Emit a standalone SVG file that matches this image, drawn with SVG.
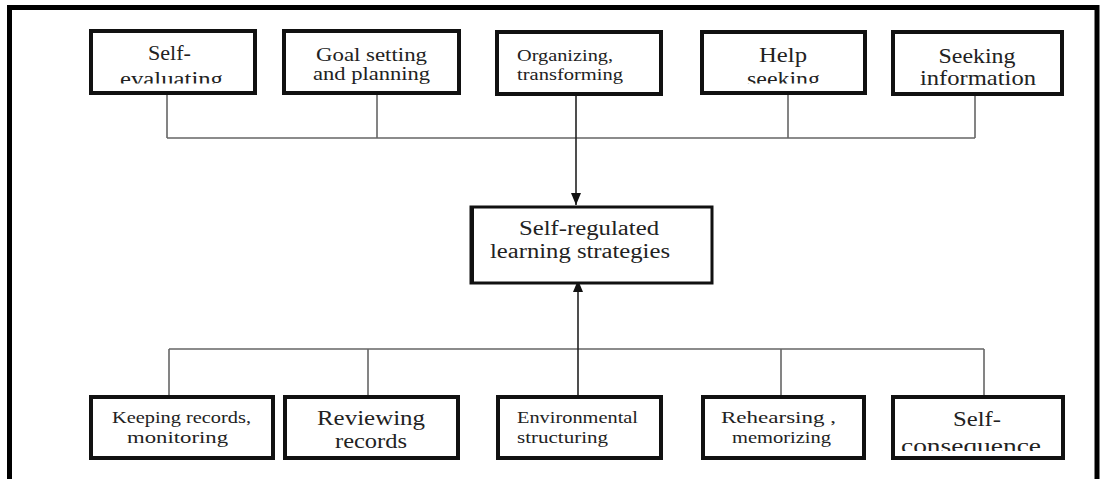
<svg xmlns="http://www.w3.org/2000/svg" width="1100" height="479" viewBox="0 0 1100 479">
  <style>
    .box { fill: #ffffff; stroke: #111111; stroke-width: 4; }
    .hub { fill: #ffffff; stroke: #111111; stroke-width: 3; }
    .t { font-family: 'Liberation Serif', 'DejaVu Serif', 'Times New Roman', serif; fill: #222222; text-anchor: middle; }
    .l { text-anchor: start; }
    .s17 { font-size: 17px; }
    .s19 { font-size: 19px; }
    .s20 { font-size: 20px; }
    .s21 { font-size: 21px; }
    .s22 { font-size: 22px; }
    .wire { fill: none; stroke: #666666; stroke-width: 1.6; }
    .main { fill: none; stroke: #222222; stroke-width: 1.6; }
  </style>
  <defs>
    <marker id="head" viewBox="0 0 12 10" refX="12" refY="5" markerWidth="12" markerHeight="10" markerUnits="userSpaceOnUse" orient="auto">
      <path d="M0,0 L12,5 L0,10 Z" fill="#111111"/>
    </marker>
    <clipPath id="clipSelfEval"><rect x="86" y="30" width="170" height="53.5"/></clipPath>
    <clipPath id="clipHelp"><rect x="700" y="30" width="170" height="53.5"/></clipPath>
    <clipPath id="clipConseq"><rect x="890" y="395" width="180" height="56"/></clipPath>
  </defs>

  <rect width="1100" height="479" fill="#ffffff"/>

  <!-- outer frame -->
  <path d="M9.5,479 V7.5 H1097 V479" fill="none" stroke="#000000" stroke-width="5"/>

  <!-- connectors -->
  <g id="connectors">
    <path class="wire" d="M167,93 V138 M377,93 V138 M788,93 V138 M975,93 V138 M167,138 H975"/>
    <path class="main" d="M576,94 V205" marker-end="url(#head)"/>
    <path class="wire" d="M169,397 V349 M368,397 V349 M781,397 V349 M984,397 V349 M169,349 H984"/>
    <path class="main" d="M578,397 V280" marker-end="url(#head)"/>
  </g>

  <!-- top row -->
  <g id="self-evaluating">
    <rect class="box" x="91" y="31" width="164" height="62"/>
    <text class="t s20" x="169.5" y="60" textLength="43" lengthAdjust="spacingAndGlyphs">Self-</text>
    <text class="t s20" x="171.5" y="86" textLength="103" lengthAdjust="spacingAndGlyphs" clip-path="url(#clipSelfEval)">evaluating</text>
  </g>
  <g id="goal-setting">
    <rect class="box" x="284" y="31" width="175" height="62"/>
    <text class="t s19" x="371.5" y="61" textLength="111" lengthAdjust="spacingAndGlyphs">Goal setting</text>
    <text class="t s19" x="371.5" y="80" textLength="117" lengthAdjust="spacingAndGlyphs">and planning</text>
  </g>
  <g id="organizing">
    <rect class="box" x="497" y="32" width="164" height="62"/>
    <text class="t l s17" x="517" y="61" textLength="96" lengthAdjust="spacingAndGlyphs">Organizing,</text>
    <text class="t l s17" x="517" y="80" textLength="106" lengthAdjust="spacingAndGlyphs">transforming</text>
  </g>
  <g id="help-seeking">
    <rect class="box" x="702" y="32" width="163" height="61"/>
    <text class="t s22" x="783" y="62" textLength="48" lengthAdjust="spacingAndGlyphs">Help</text>
    <text class="t s22" x="783.5" y="86" textLength="73" lengthAdjust="spacingAndGlyphs" clip-path="url(#clipHelp)">seeking</text>
  </g>
  <g id="seeking-information">
    <rect class="box" x="893" y="32" width="169" height="62"/>
    <text class="t s21" x="977" y="63" textLength="77" lengthAdjust="spacingAndGlyphs">Seeking</text>
    <text class="t s21" x="978" y="85" textLength="116" lengthAdjust="spacingAndGlyphs">information</text>
  </g>

  <!-- central node -->
  <g id="srl-strategies">
    <rect class="hub" x="471" y="207" width="241" height="76"/>
    <path d="M472,206 V284" stroke="#111111" stroke-width="4"/>
    <text class="t s20" x="589" y="235" textLength="140" lengthAdjust="spacingAndGlyphs">Self-regulated</text>
    <text class="t s20" x="580" y="258" textLength="180" lengthAdjust="spacingAndGlyphs">learning strategies</text>
  </g>

  <!-- bottom row -->
  <g id="keeping-records">
    <rect class="box" x="91" y="397" width="182" height="61"/>
    <text class="t s17" x="181.5" y="423" textLength="139" lengthAdjust="spacingAndGlyphs">Keeping records,</text>
    <text class="t s17" x="177.5" y="443" textLength="101" lengthAdjust="spacingAndGlyphs">monitoring</text>
  </g>
  <g id="reviewing-records">
    <rect class="box" x="285" y="397" width="173" height="61"/>
    <text class="t s22" x="371" y="425" textLength="108" lengthAdjust="spacingAndGlyphs">Reviewing</text>
    <text class="t s22" x="371" y="448" textLength="72" lengthAdjust="spacingAndGlyphs">records</text>
  </g>
  <g id="environmental-structuring">
    <rect class="box" x="498" y="397" width="163" height="61"/>
    <text class="t l s17" x="517" y="423" textLength="121" lengthAdjust="spacingAndGlyphs">Environmental</text>
    <text class="t l s17" x="517" y="443" textLength="91" lengthAdjust="spacingAndGlyphs">structuring</text>
  </g>
  <g id="rehearsing">
    <rect class="box" x="703" y="397" width="161" height="61"/>
    <text class="t l s17" x="721" y="423" textLength="115" lengthAdjust="spacingAndGlyphs">Rehearsing  ,</text>
    <text class="t l s17" x="732" y="443" textLength="99" lengthAdjust="spacingAndGlyphs">memorizing</text>
  </g>
  <g id="self-consequence">
    <rect class="box" x="893" y="397" width="170" height="61"/>
    <text class="t s22" x="977" y="426" textLength="48" lengthAdjust="spacingAndGlyphs">Self-</text>
    <text class="t s22" x="971" y="453" textLength="140" lengthAdjust="spacingAndGlyphs" clip-path="url(#clipConseq)">consequence</text>
  </g>
</svg>
